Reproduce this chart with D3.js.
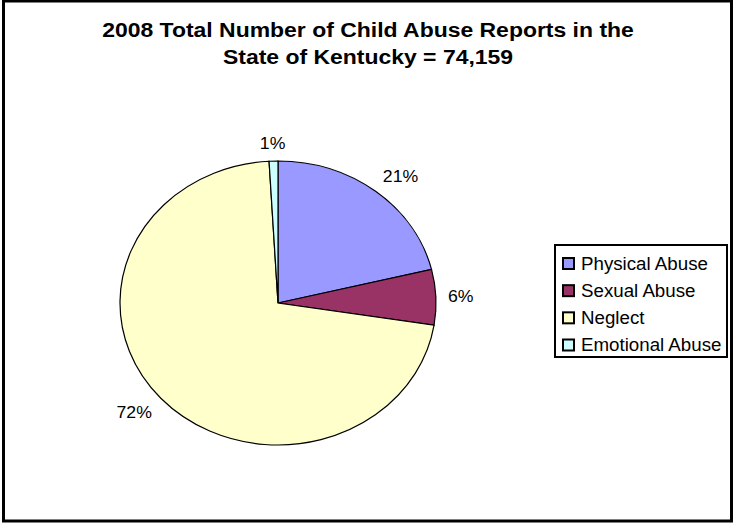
<!DOCTYPE html>
<html lang="en">
<head>
  <meta charset="utf-8">
  <title>2008 Child Abuse Reports - Kentucky</title>
  <script src="https://cdnjs.cloudflare.com/ajax/libs/d3/7.8.5/d3.min.js"></script>
  <style>
    body { margin: 0; background: #fff; }
    svg text { font-family: "Liberation Sans", Arial, sans-serif; fill: #000; }
  </style>
</head>
<body>
<div id="ChartArea"></div>
<script>
// data (share of all reports, %)
const categories = ["Physical Abuse", "Sexual Abuse", "Neglect", "Emotional Abuse"];
const shares = [21.2, 6.3, 71.6, 0.9];
const colors = ["#9999ff", "#993366", "#ffffcc", "#ccffff"];
const titleLines = ["2008 Total Number of Child Abuse Reports in the", "State of Kentucky = 74,159"];

const W = 737, H = 527;
const cx = 278, cy = 303;
const rx = 158, ry = 142;   // the whole chart is stretched a little sideways
const sx = 1.12;            // same stretch for the text

const svg = d3.select("#ChartArea").append("svg")
    .attr("width", W)
    .attr("height", H);

svg.append("rect")
    .attr("width", W).attr("height", H)
    .attr("fill", "#fff");

// outer frame
svg.append("rect")
    .attr("x", 3.5).attr("y", 1)
    .attr("width", 728).attr("height", 520)
    .attr("fill", "none")
    .attr("stroke", "#000")
    .attr("stroke-width", 3);

// title
svg.selectAll(".title")
  .data(titleLines)
  .enter().append("text")
    .attr("class", "title")
    .attr("text-anchor", "middle")
    .attr("transform", (d, i) => "translate(368," + (37 + i * 27) + ") scale(" + sx + ",1)")
    .style("font-size", "20.5px")
    .style("font-weight", "bold")
    .text(d => d);

// pie
const data = categories.map((c, i) => ({ name: c, value: shares[i], color: colors[i] }));
const pie = d3.pie().sort(null).value(d => d.value);
const arcs = pie(data);
const arc = d3.arc().innerRadius(0).outerRadius(rx);

const g = svg.append("g")
    .attr("transform", "translate(" + cx + "," + cy + ") scale(1," + (ry / rx) + ")");

g.selectAll("path")
  .data(arcs)
  .enter().append("path")
    .attr("d", arc)
    .attr("fill", d => d.data.color)
    .attr("stroke", "#000")
    .attr("stroke-width", 1.2)
    .attr("vector-effect", "non-scaling-stroke");

// percent labels just outside the rim
const fmt = d => Math.round(d.value) + "%";
const gap = 12;
const clamp = v => Math.max(-1, Math.min(1, v));
arcs.forEach(d => {
  const a = (d.startAngle + d.endAngle) / 2;
  const t = svg.append("text")
      .style("font-size", "17px")
      .attr("text-anchor", "middle")
      .text(fmt(d.data));
  const hw = t.node().getComputedTextLength() * 1.04 / 2;
  const hh = 6;
  const x = cx + (rx + gap) * Math.sin(a) + hw * clamp(Math.sin(a) * 1.6);
  const y = cy - (ry + gap) * Math.cos(a) - hh * clamp(Math.cos(a) * 1.6);
  t.attr("transform", "translate(" + x + "," + (y + 6) + ") scale(1.04,1)");
});

// legend
const ly = d3.scalePoint().domain(categories).range([263.5, 345]);

svg.append("rect")
    .attr("x", 555).attr("y", 245)
    .attr("width", 172).attr("height", 112)
    .attr("fill", "#fff")
    .attr("stroke", "#000")
    .attr("stroke-width", 2);

const item = svg.selectAll(".legend")
  .data(data)
  .enter().append("g")
    .attr("class", "legend")
    .attr("transform", d => "translate(0," + ly(d.name) + ")");

item.append("rect")
    .attr("x", 563).attr("y", -5.5)
    .attr("width", 11).attr("height", 11)
    .attr("fill", d => d.color)
    .attr("stroke", "#000")
    .attr("stroke-width", 2);

item.append("text")
    .attr("transform", "translate(581,6) scale(1.07,1)")
    .style("font-size", "17.5px")
    .text(d => d.name);
</script>
</body>
</html>
